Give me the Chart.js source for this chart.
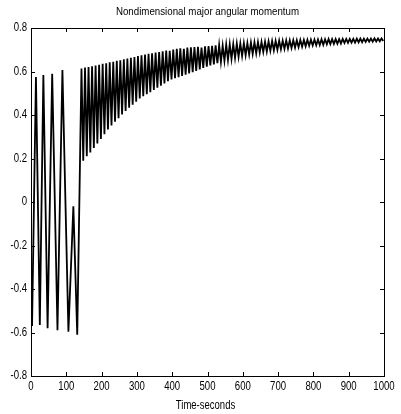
<!DOCTYPE html>
<html>
<head>
<meta charset="utf-8">
<script src="https://cdn.jsdelivr.net/npm/chart.js@4.4.0/dist/chart.umd.min.js"></script>
<style>
  html, body { margin: 0; padding: 0; background: #fff; }
  #wrap { width: 401px; height: 414px; }
</style>
</head>
<body>
<div id="wrap"><canvas id="myChart" width="401" height="414"></canvas></div>
<script>
	// start-up swings (turning points)
	var earlyTime  = [0, 3, 14, 25, 35, 47, 60, 75, 89, 106, 120, 131];
	var earlyValue = [-0.30, -0.57, 0.575, -0.565, 0.584, -0.58, 0.59, -0.59, 0.607, -0.596, -0.02, -0.61];

	// after ~140 s: fast oscillation, peaks and troughs
	var peakTime = [143, 153, 163, 173, 183, 193, 203, 213, 223, 233, 243, 253, 263, 273, 283, 293, 303, 313, 323, 333,
		343, 353, 363, 373, 383, 393, 403, 413, 423, 433, 443, 453, 463, 473, 483, 493, 503, 513, 523, 533,
		543, 553, 563, 573, 583, 593, 603, 613, 623, 633, 643, 653, 663, 673, 683, 693, 703, 713, 723, 733,
		743, 753, 763, 773, 783, 793, 803, 813, 823, 833, 843, 853, 863, 873, 883, 893, 903, 913, 923, 933,
		943, 953, 963, 973, 983, 993];
	var peakValue = [0.614, 0.618, 0.621, 0.624, 0.628, 0.631, 0.635, 0.638, 0.642, 0.645, 0.649, 0.652, 0.656, 0.660, 0.663, 0.667, 0.671, 0.674, 0.678, 0.681,
		0.684, 0.687, 0.690, 0.693, 0.696, 0.695, 0.701, 0.704, 0.707, 0.704, 0.710, 0.711, 0.712, 0.713, 0.710, 0.716, 0.717, 0.718, 0.720, 0.721,
		0.718, 0.724, 0.725, 0.726, 0.728, 0.729, 0.730, 0.731, 0.733, 0.734, 0.735, 0.736, 0.737, 0.739, 0.740, 0.741, 0.742, 0.742, 0.743, 0.743,
		0.744, 0.744, 0.745, 0.745, 0.746, 0.746, 0.747, 0.747, 0.748, 0.748, 0.749, 0.749, 0.749, 0.749, 0.750, 0.750, 0.750, 0.750, 0.751, 0.751,
		0.751, 0.751, 0.751, 0.752, 0.752, 0.752];
	var troughTime = [148, 158, 168, 178, 188, 198, 208, 218, 228, 238, 248, 258, 268, 278, 288, 298, 308, 318, 328, 338,
		348, 358, 368, 378, 388, 398, 408, 418, 428, 438, 448, 458, 468, 478, 488, 498, 508, 518, 528, 538,
		548, 558, 568, 578, 588, 598, 608, 618, 628, 638, 648, 658, 668, 678, 688, 698, 708, 718, 728, 738,
		748, 758, 768, 778, 788, 798, 808, 818, 828, 838, 848, 858, 868, 878, 888, 898, 908, 918, 928, 938,
		948, 958, 968, 978, 988, 998];
	var troughValue = [0.190, 0.210, 0.228, 0.248, 0.269, 0.290, 0.312, 0.333, 0.352, 0.369, 0.385, 0.402, 0.418, 0.433, 0.447, 0.461, 0.476, 0.486, 0.496, 0.505,
		0.515, 0.525, 0.535, 0.545, 0.555, 0.563, 0.569, 0.574, 0.580, 0.585, 0.591, 0.597, 0.603, 0.610, 0.616, 0.622, 0.628, 0.633, 0.638, 0.644,
		0.649, 0.654, 0.658, 0.662, 0.667, 0.671, 0.675, 0.678, 0.681, 0.684, 0.687, 0.690, 0.692, 0.695, 0.697, 0.700, 0.702, 0.704, 0.706, 0.708,
		0.710, 0.712, 0.714, 0.716, 0.718, 0.720, 0.721, 0.722, 0.723, 0.725, 0.726, 0.727, 0.728, 0.729, 0.731, 0.732, 0.733, 0.733, 0.734, 0.735,
		0.736, 0.737, 0.737, 0.738, 0.739, 0.740];

	var xTicks = [0, 100, 200, 300, 400, 500, 600, 700, 800, 900, 1000];
	var yTicks = [-0.8, -0.6, -0.4, -0.2, 0, 0.2, 0.4, 0.6, 0.8];
	var yTickLabels = ['-0.8', '-0.6', '-0.4', '-0.2', '0', '0.2', '0.4', '0.6', '0.8'];

	var points = [];
	for (var i = 0; i < earlyTime.length; i++) {
		points.push({x: earlyTime[i], y: earlyValue[i]});
	}
	for (var k = 0; k < peakTime.length; k++) {
		points.push({x: peakTime[k], y: peakValue[k]});
		points.push({x: troughTime[k], y: troughValue[k]});
	}

	// narrow text like the old matlab export
	function narrowText(ctx, txt, x, y, size, squeeze, align, base) {
		ctx.save();
		ctx.font = size + "px 'Liberation Sans', Arial, sans-serif";
		ctx.textAlign = align;
		ctx.textBaseline = base;
		ctx.translate(x, y);
		ctx.scale(squeeze, 1);
		ctx.fillText(txt, 0, 0);
		ctx.restore();
	}

	// box with inward ticks, tick labels and titles
	var boxPlugin = {
		id: 'box',
		afterDraw: function(chart) {
			var ctx = chart.ctx, a = chart.chartArea;
			var xs = chart.scales.x, ys = chart.scales.y;
			ctx.save();
			ctx.strokeStyle = '#000';
			ctx.lineWidth = 1;
			ctx.strokeRect(Math.round(a.left) + 0.5, Math.round(a.top) + 0.5, Math.round(a.right - a.left), Math.round(a.bottom - a.top));
			ctx.beginPath();
			xTicks.forEach(function(v) {
				var px = Math.round(xs.getPixelForValue(v)) + 0.5;
				ctx.moveTo(px, a.bottom); ctx.lineTo(px, a.bottom - 4);
				ctx.moveTo(px, a.top); ctx.lineTo(px, a.top + 4);
			});
			yTicks.forEach(function(v) {
				var py = Math.round(ys.getPixelForValue(v)) + 0.5;
				ctx.moveTo(a.left, py); ctx.lineTo(a.left + 4, py);
				ctx.moveTo(a.right, py); ctx.lineTo(a.right - 4, py);
			});
			ctx.stroke();
			ctx.fillStyle = '#000';
			xTicks.forEach(function(v) {
				narrowText(ctx, String(v), xs.getPixelForValue(v), a.bottom + 11, 12, 0.8, 'center', 'middle');
			});
			yTicks.forEach(function(v, n) {
				narrowText(ctx, yTickLabels[n], a.left - 4, ys.getPixelForValue(v), 12, 0.8, 'right', 'middle');
			});
			narrowText(ctx, 'Nondimensional major angular momentum', (a.left + a.right) / 2, 12.5, 10.8, 0.9, 'center', 'middle');
			narrowText(ctx, 'Time-seconds', 205.5, 405.5, 12.2, 0.78, 'center', 'middle');
			ctx.restore();
		}
	};

	var ctx = document.getElementById('myChart').getContext('2d');
	var myChart = new Chart(ctx, {
		type: 'line',
		data: {
			datasets: [{
				data: points,
				borderColor: '#000',
				borderWidth: 1.8,
				pointRadius: 0,
				tension: 0,
				fill: false
			}]
		},
		options: {
			responsive: false,
			animation: false,
			layout: {padding: {top: 28, right: 17, left: 0, bottom: 0}},
			plugins: {legend: {display: false}, tooltip: {enabled: false}},
			scales: {
				x: {
					type: 'linear',
					min: 0, max: 1000,
					afterFit: function(s) { s.height = 38; },
					grid: {display: false, drawTicks: false},
					border: {display: false},
					ticks: {display: false}
				},
				y: {
					min: -0.8, max: 0.8,
					afterFit: function(s) { s.width = 31; },
					grid: {display: false, drawTicks: false},
					border: {display: false},
					ticks: {display: false}
				}
			}
		},
		plugins: [boxPlugin]
	});
</script>
</body>
</html>
